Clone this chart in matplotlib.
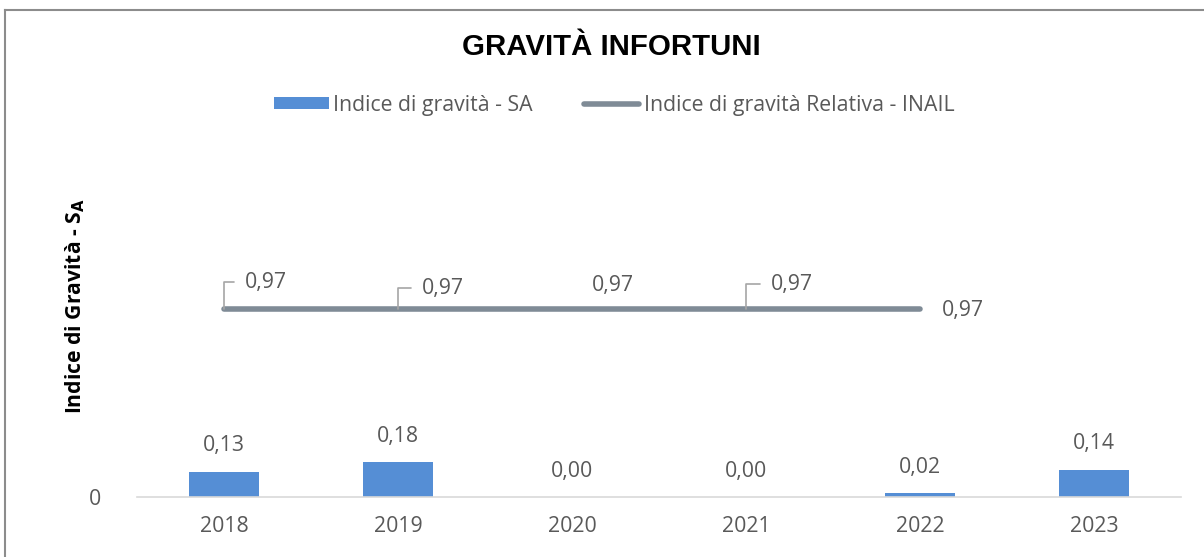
import matplotlib
matplotlib.use("Agg")
import matplotlib.pyplot as plt
from matplotlib.lines import Line2D

years = ["2018", "2019", "2020", "2021", "2022", "2023"]
sa_values = [0.13, 0.18, 0.00, 0.00, 0.02, 0.14]
inail_years = ["2018", "2019", "2020", "2021", "2022"]
inail_values = [0.97, 0.97, 0.97, 0.97, 0.97]

# label offsets (pixels) for the INAIL line labels, and whether a leader is drawn
inail_offsets = [(42, 27), (45, 21), (41, 24), (46, 25), (43, -1)]
inail_leader = [True, True, False, True, False]

BAR_COL = "#558ed5"
LINE_COL = "#7f8b96"
TXT_COL = "#595959"
FS = 15.3

plt.rcParams["font.family"] = ["Open Sans", "DejaVu Sans"]

fig = plt.figure(figsize=(12.04, 5.57), dpi=100)
ax = fig.add_axes([137 / 1204, 1 - 497 / 557, 1044 / 1204, 357 / 557])

x = list(range(len(years)))
bars = ax.bar(x, sa_values, width=0.40, color=BAR_COL, zorder=2, label="Indice di gravità - SA")
xl = [years.index(y) for y in inail_years]
(ln,) = ax.plot(xl, inail_values, color=LINE_COL, lw=4, solid_capstyle="round", zorder=3,
                label="Indice di gravità Relativa - INAIL")

ax.set_xlim(-0.5, len(years) - 0.5)
ax.set_ylim(0, 357 / 193.8)

for xi, v in zip(x, sa_values):
    ax.annotate(f"{v:.2f}".replace(".", ","), (xi, v), xytext=(0, 26), textcoords="offset pixels",
                ha="center", va="center", fontsize=FS, color=TXT_COL)

for xi, v, (dx, dy), lead in zip(xl, inail_values, inail_offsets, inail_leader):
    if lead:
        ax.annotate(f"{v:.2f}".replace(".", ","), (xi, v), xytext=(dx, dy), textcoords="offset pixels",
                    ha="center", va="center", fontsize=FS, color=TXT_COL,
                    arrowprops=dict(arrowstyle="-", color="#a6a6a6", lw=1.2,
                                    connectionstyle="angle,angleA=0,angleB=90,rad=0",
                                    relpos=(0, 0.5), shrinkA=6, shrinkB=0))
    else:
        ax.annotate(f"{v:.2f}".replace(".", ","), (xi, v), xytext=(dx, dy), textcoords="offset pixels",
                    ha="center", va="center", fontsize=FS, color=TXT_COL)

for s in ["top", "right", "left"]:
    ax.spines[s].set_visible(False)
ax.spines["bottom"].set_color("#d9d9d9")
ax.spines["bottom"].set_linewidth(1.2)

ax.set_xticks(x)
ax.set_xticklabels(years)
ax.set_yticks([0])
ax.set_yticklabels(["0"])
ax.tick_params(axis="x", length=0, pad=14, labelsize=FS, labelcolor=TXT_COL)
ax.tick_params(axis="y", length=0, pad=26, labelsize=FS, labelcolor=TXT_COL)

ax.set_ylabel("Indice di Gravità - S$_{\\mathbf{A}}$", fontsize=15.2, fontweight="bold", labelpad=0)
ax.yaxis.set_label_coords(-50 / 1044, (497 - 306) / 357)

fig.text(611 / 1204, 1 - 47 / 557, "GRAVITÀ INFORTUNI", ha="center", va="center",
         fontsize=21.2, fontweight="bold", family=["Liberation Sans", "DejaVu Sans"])

fig.legend(handles=[bars, ln], loc="center", bbox_to_anchor=(614 / 1204, 1 - 105 / 557), ncol=2,
           frameon=False, fontsize=FS, handlelength=2.6, handleheight=0.5,
           handletextpad=0.2, columnspacing=2.4, labelcolor=TXT_COL)

# chart frame (only top and left edge are visible in the picture)
fig.add_artist(Line2D([4.5 / 1204, 4.5 / 1204], [-0.1, 1 - 9.5 / 557], color="#8c8c8c", lw=1.5))
fig.add_artist(Line2D([4.5 / 1204, 1.1], [1 - 9.5 / 557, 1 - 9.5 / 557], color="#8c8c8c", lw=1.5))

fig.savefig("out.png", dpi=100)
